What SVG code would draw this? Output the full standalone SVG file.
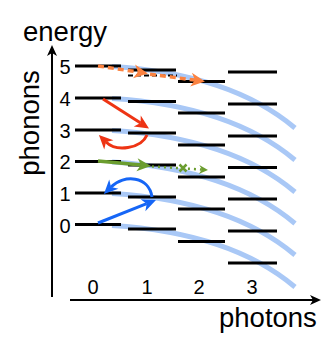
<svg xmlns="http://www.w3.org/2000/svg" width="332" height="347" viewBox="0 0 332 347">
<style>
.lvl{stroke:#000;stroke-width:3;fill:none}
.band{stroke:#a9c8f6;stroke-width:5;fill:none}
.t{font-family:"Liberation Sans",Arial,Helvetica,sans-serif;fill:#000}
.big{font-size:27.5px}
.num{font-size:20px;text-anchor:middle}
.axis{stroke:#000;stroke-width:2;fill:none}
</style>
<defs>
<marker id="ah-k" viewBox="-12 -6 13 12" markerWidth="13" markerHeight="12" refX="-8" refY="0" orient="auto" markerUnits="userSpaceOnUse"><path d="M0,0 L-11,-5 L-8,0 L-11,5Z" fill="#000"/></marker>
<marker id="ah-o" viewBox="-15 -8 16 16" markerWidth="16" markerHeight="16" refX="-10" refY="0" orient="auto" markerUnits="userSpaceOnUse"><path d="M0,0 L-14,-7 L-10,0 L-14,7Z" fill="#fb8240"/></marker>
<marker id="ah-r" viewBox="-15 -8 16 16" markerWidth="16" markerHeight="16" refX="-10" refY="0" orient="auto" markerUnits="userSpaceOnUse"><path d="M0,0 L-14,-6.5 L-10,0 L-14,6.5Z" fill="#ee3414"/></marker>
<marker id="ah-g" viewBox="-15 -8 16 16" markerWidth="16" markerHeight="16" refX="-10" refY="0" orient="auto" markerUnits="userSpaceOnUse"><path d="M0,0 L-14,-6.5 L-10,0 L-14,6.5Z" fill="#6b9d2f"/></marker>
<marker id="ah-gs" viewBox="-10 -5 11 10" markerWidth="11" markerHeight="10" refX="-6" refY="0" orient="auto" markerUnits="userSpaceOnUse"><path d="M0,0 L-9,-4.5 L-6,0 L-9,4.5Z" fill="#6b9d2f"/></marker>
<marker id="ah-b" viewBox="-15 -8 16 16" markerWidth="16" markerHeight="16" refX="-10" refY="0" orient="auto" markerUnits="userSpaceOnUse"><path d="M0,0 L-14,-6.5 L-10,0 L-14,6.5Z" fill="#1666f6"/></marker>
</defs>

<g id="bands">
<path class="band" d="M112,66.5 C185,71 250,90 295,128"/>
<path class="band" d="M112,98.5 C185,103 250,122 295,160"/>
<path class="band" d="M112,130.5 C185,135 250,154 295,192"/>
<path class="band" d="M112,162 C185,166.5 250,185.5 295,223.5"/>
<path class="band" d="M112,193.5 C185,198 250,217 295,255"/>
<path class="band" d="M112,225.5 C185,230 250,249 295,287"/>
</g>

<g id="col0">
<line class="lvl" x1="75" y1="66" x2="121" y2="66"/>
<line class="lvl" x1="75" y1="98" x2="121" y2="98"/>
<line class="lvl" x1="75" y1="130" x2="121" y2="130"/>
<line class="lvl" x1="75" y1="161.5" x2="121" y2="161.5"/>
<line class="lvl" x1="75" y1="193" x2="121" y2="193"/>
<line class="lvl" x1="75" y1="224.5" x2="121" y2="224.5"/>
</g>
<g id="col1">
<line class="lvl" x1="128" y1="70" x2="176" y2="70"/>
<line class="lvl" x1="128" y1="101.5" x2="176" y2="101.5"/>
<line class="lvl" x1="128" y1="133" x2="176" y2="133"/>
<line class="lvl" x1="128" y1="165" x2="176" y2="165"/>
<line class="lvl" x1="128" y1="197" x2="176" y2="197"/>
<line class="lvl" x1="128" y1="229" x2="176" y2="229"/>
<line x1="128" y1="75.5" x2="177" y2="75.5" stroke="#000" stroke-width="2" stroke-dasharray="5 3"/>
</g>
<g id="col2">
<line class="lvl" x1="178" y1="81.5" x2="225" y2="81.5"/>
<line class="lvl" x1="178" y1="113" x2="225" y2="113"/>
<line class="lvl" x1="178" y1="145" x2="225" y2="145"/>
<line class="lvl" x1="178" y1="177" x2="225" y2="177"/>
<line class="lvl" x1="178" y1="209" x2="225" y2="209"/>
<line class="lvl" x1="178" y1="241.5" x2="225" y2="241.5"/>
</g>
<g id="col3">
<line class="lvl" x1="228" y1="72" x2="277" y2="72"/>
<line class="lvl" x1="228" y1="104" x2="277" y2="104"/>
<line class="lvl" x1="228" y1="136" x2="277" y2="136"/>
<line class="lvl" x1="228" y1="167.5" x2="277" y2="167.5"/>
<line class="lvl" x1="228" y1="199" x2="277" y2="199"/>
<line class="lvl" x1="228" y1="231" x2="277" y2="231"/>
<line class="lvl" x1="228" y1="263" x2="277" y2="263"/>
</g>

<g id="connectors">
<path d="M98,66 L138,72" stroke="#fb8240" stroke-width="3.5" stroke-dasharray="6 4" fill="none" marker-end="url(#ah-o)"/>
<path d="M150,74.3 L195,80.1" stroke="#fb8240" stroke-width="3.5" stroke-dasharray="6 4" fill="none" marker-end="url(#ah-o)"/>
<path d="M103,99 L140.6,123.1" stroke="#ee3414" stroke-width="3" fill="none" marker-end="url(#ah-r)"/>
<path d="M147,135 C141,149 116,152 106,142" stroke="#ee3414" stroke-width="3" fill="none" marker-end="url(#ah-r)"/>
<path d="M98,161 L141,165.1" stroke="#6b9d2f" stroke-width="3.5" fill="none" marker-end="url(#ah-g)"/>
<path d="M152,166.5 L202,169.6" stroke="#6b9d2f" stroke-width="2.5" stroke-dasharray="2 4" fill="none" marker-end="url(#ah-gs)"/>
<path d="M179.5,164.5 L186.5,171.5 M186.5,164.5 L179.5,171.5" stroke="#6b9d2f" stroke-width="2.5" fill="none"/>
<path d="M98,223 L146.7,203.7" stroke="#1666f6" stroke-width="3" fill="none" marker-end="url(#ah-b)"/>
<path d="M152,197 C149,176 124,174 111,187" stroke="#1666f6" stroke-width="3" fill="none" marker-end="url(#ah-b)"/>
</g>

<g id="axes">
<path class="axis" d="M52,297 L52,53" marker-end="url(#ah-k)"/>
<path class="axis" d="M70,300 L313,300" marker-end="url(#ah-k)"/>
</g>

<g id="labels">
<text class="t big" x="23" y="40.5">energy</text>
<text class="t big" x="219" y="326.5">photons</text>
<text class="t big" text-anchor="middle" transform="translate(38.5,123) rotate(-90)">phonons</text>
<text class="t num" x="65" y="73.5">5</text>
<text class="t num" x="65" y="105.5">4</text>
<text class="t num" x="65" y="137.5">3</text>
<text class="t num" x="65" y="169">2</text>
<text class="t num" x="65" y="200.5">1</text>
<text class="t num" x="65" y="232.5">0</text>
<text class="t num" x="93" y="293.5">0</text>
<text class="t num" x="147" y="293.5">1</text>
<text class="t num" x="199" y="293.5">2</text>
<text class="t num" x="252" y="293.5">3</text>
</g>
</svg>
